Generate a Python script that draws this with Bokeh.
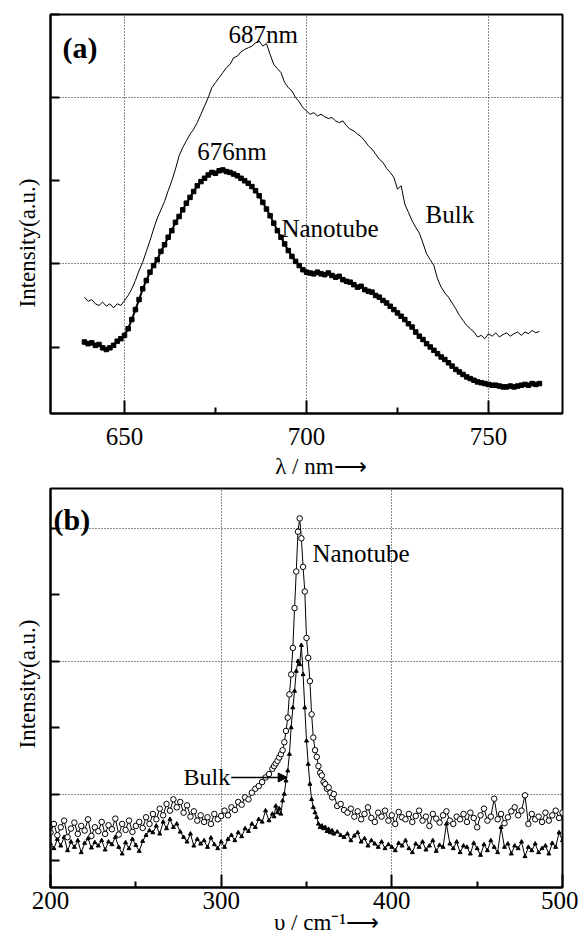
import math
from bokeh.plotting import figure
from bokeh.layouts import column
from bokeh.models import Range1d, FixedTicker, Label, Arrow, NormalHead, Title
from bokeh.embed import file_html
from bokeh.resources import INLINE

SERIF = "Liberation Serif"
NB = "\u00a0"

# ---------------- data: panel (a) photoluminescence ----------------
wl = list(range(639, 765))  # wavelength, nm
nano_pl = [
    1.06, 1.04, 1.05, 1.02, 1.03, 0.99, 0.97, 0.99, 1.02, 1.07,
    1.10, 1.14, 1.22, 1.33, 1.45, 1.57, 1.70, 1.80, 1.90, 1.98,
    2.05, 2.15, 2.23, 2.32, 2.40, 2.50, 2.57, 2.65, 2.73, 2.80,
    2.87, 2.94, 2.99, 3.03, 3.07, 3.10, 3.09, 3.12, 3.13, 3.11,
    3.10, 3.08, 3.06, 3.03, 3.00, 2.97, 2.93, 2.88, 2.82, 2.74,
    2.66, 2.58, 2.49, 2.40, 2.32, 2.24, 2.16, 2.09, 2.03, 1.98,
    1.93, 1.90, 1.89, 1.88, 1.90, 1.88, 1.87, 1.89, 1.86, 1.84,
    1.85, 1.81, 1.79, 1.78, 1.75, 1.72, 1.73, 1.69, 1.67, 1.66,
    1.62, 1.60, 1.56, 1.53, 1.49, 1.45, 1.41, 1.37, 1.33, 1.28,
    1.24, 1.18, 1.13, 1.09, 1.04, 1.00, 0.96, 0.92, 0.88, 0.85,
    0.81, 0.77, 0.73, 0.70, 0.67, 0.64, 0.62, 0.60, 0.58, 0.57,
    0.56, 0.55, 0.54, 0.54, 0.53, 0.52, 0.52, 0.53, 0.52, 0.53,
    0.54, 0.55, 0.54, 0.56, 0.55, 0.56,
]
bulk_pl = [
    1.60, 1.55, 1.57, 1.52, 1.50, 1.54, 1.49, 1.52, 1.47, 1.52,
    1.50, 1.56, 1.62, 1.70, 1.80, 1.92, 2.02, 2.15, 2.28, 2.42,
    2.55, 2.65, 2.75, 2.88, 3.00, 3.14, 3.30, 3.40, 3.48, 3.56,
    3.62, 3.70, 3.80, 3.90, 4.00, 4.12, 4.18, 4.24, 4.30, 4.36,
    4.40, 4.48, 4.50, 4.55, 4.58, 4.60, 4.62, 4.66, 4.68, 4.62,
    4.65, 4.52, 4.40, 4.35, 4.30, 4.18, 4.12, 4.08, 4.00, 3.95,
    3.88, 3.84, 3.80, 3.82, 3.78, 3.80, 3.77, 3.75, 3.76, 3.72,
    3.70, 3.72, 3.66, 3.62, 3.60, 3.56, 3.53, 3.48, 3.42, 3.38,
    3.32, 3.26, 3.22, 3.15, 3.10, 3.04, 2.90, 2.94, 2.72, 2.62,
    2.52, 2.44, 2.37, 2.25, 2.12, 2.05, 1.98, 1.82, 1.72, 1.65,
    1.60, 1.53, 1.46, 1.38, 1.32, 1.26, 1.22, 1.18, 1.12, 1.14,
    1.10, 1.16, 1.13, 1.17, 1.12, 1.15, 1.17, 1.13, 1.16, 1.18,
    1.14, 1.18, 1.16, 1.20, 1.17, 1.19,
]
a_xticks = [650, 700, 750]
a_xminor = [675, 725]
a_yticks = [1, 2, 3, 4, 5]
a_ygrid = [2, 4]

# ---------------- data: panel (b) Raman ----------------
raman_x = list(range(200, 330, 2)) + list(range(330, 367)) + list(range(368, 501, 2))
nano_raman = [
    1.42, 1.55, 1.38, 1.50, 1.60, 1.35, 1.48, 1.57, 1.40, 1.52, 1.45, 1.62, 1.37, 1.50, 1.44,
    1.58, 1.40, 1.53, 1.47, 1.63, 1.39, 1.55, 1.46, 1.60, 1.43, 1.52, 1.58, 1.49, 1.65, 1.55,
    1.70, 1.62, 1.78, 1.68, 1.85, 1.75, 1.92, 1.80, 1.88, 1.72, 1.83, 1.66, 1.74, 1.60, 1.68,
    1.58, 1.65, 1.55, 1.70, 1.62, 1.67, 1.75, 1.68, 1.80, 1.76, 1.88, 1.84, 1.95, 1.92, 2.02,
    2.08, 2.12, 2.18, 2.25, 2.30,
    2.38, 2.42, 2.46, 2.50, 2.55, 2.60, 2.66, 2.78, 2.95, 3.15,
    3.50, 3.80, 4.20, 4.80, 5.35, 5.95, 6.15, 5.85, 5.42, 5.05,
    4.35, 4.05, 3.70, 3.20, 2.85, 2.66, 2.56, 2.42, 2.32, 2.28,
    2.18, 2.15, 2.08, 2.10, 2.02, 1.95, 2.00,
    1.82, 1.85, 1.76, 1.72, 1.78, 1.66, 1.74, 1.62, 1.70, 1.80, 1.64, 1.58, 1.72, 1.66, 1.75, 1.60,
    1.68, 1.55, 1.73, 1.65, 1.62, 1.70, 1.58, 1.67, 1.75, 1.60, 1.66, 1.52, 1.70, 1.63, 1.57, 1.68,
    1.74, 1.60, 1.55, 1.66, 1.62, 1.70, 1.58, 1.72, 1.64, 1.50, 1.68, 1.78, 1.60, 1.66, 1.93, 1.62,
    1.70, 1.56, 1.65, 1.74, 1.80, 1.68, 1.75, 1.98, 1.55, 1.70, 1.62, 1.66, 1.58, 1.72, 1.60, 1.68,
    1.75, 1.64, 1.72,
]
bulk_raman = [
    1.25, 1.18, 1.32, 1.22, 1.35, 1.15, 1.28, 1.20, 1.30, 1.12, 1.26, 1.33, 1.19, 1.27, 1.22,
    1.30, 1.16, 1.28, 1.24, 1.35, 1.20, 1.10, 1.27, 1.18, 1.32, 1.23, 1.14, 1.29, 1.38, 1.45,
    1.42, 1.52, 1.40, 1.58, 1.48, 1.62, 1.50, 1.55, 1.43, 1.35, 1.28, 1.40, 1.22, 1.32, 1.25,
    1.30, 1.20, 1.34, 1.24, 1.18, 1.28, 1.20, 1.32, 1.38, 1.30, 1.42, 1.36, 1.48, 1.44, 1.55,
    1.50, 1.62, 1.58, 1.75, 1.60,
    1.70, 1.66, 1.82, 1.72, 1.78, 1.70, 1.90, 2.00, 2.20, 2.35,
    2.60, 3.00, 3.30, 3.55, 3.85, 4.00, 3.95, 4.24, 3.80, 3.30,
    2.80, 2.45, 2.15, 1.92, 1.80, 1.72, 1.65, 1.55, 1.50, 1.52,
    1.48, 1.50, 1.44, 1.47, 1.42, 1.45, 1.40,
    1.43, 1.38, 1.35, 1.40, 1.30, 1.37, 1.42, 1.28, 1.33, 1.22, 1.30, 1.25, 1.20, 1.28, 1.18, 1.24,
    1.20, 1.15, 1.26, 1.22, 1.30, 1.18, 1.12, 1.25, 1.20, 1.28, 1.16, 1.22, 1.30, 1.14, 1.23, 1.20,
    1.55, 1.25, 1.18, 1.28, 1.12, 1.22, 1.20, 1.10, 1.26, 1.18, 1.08, 1.24, 1.15, 1.30, 1.20, 1.12,
    1.50, 1.20, 1.25, 1.10, 1.22, 1.18, 1.28, 1.06, 1.20, 1.15, 1.25, 1.12, 1.18, 1.22, 1.10, 1.26,
    1.20, 1.42, 1.30,
]
b_xticks = [200, 300, 400, 500]
b_xminor = [250, 350, 450]
b_xgrid = [300, 400]
b_yticks = [1, 2, 3, 4, 5, 6]
b_ygrid = [2, 4, 6]


def style(p, xticks, xminor, xgrid, yticks, ygrid, standoff, xlabel, xlabel_standoff):
    p.background_fill_color = "white"
    p.border_fill_color = "white"
    p.outline_line_color = "black"
    p.outline_line_width = 2
    xa = p.xaxis[0]
    xa.ticker = FixedTicker(ticks=xticks, minor_ticks=xminor)
    xa.axis_line_width = 2
    xa.major_tick_line_width = 2
    xa.major_tick_in = 13
    xa.major_tick_out = 0
    xa.minor_tick_line_width = 2
    xa.minor_tick_in = 6
    xa.minor_tick_out = 0
    xa.major_label_text_font = SERIF
    xa.major_label_text_font_size = "25px"
    xa.major_label_text_color = "black"
    xa.major_label_standoff = standoff
    xa.axis_label = xlabel
    xa.axis_label_text_font = SERIF
    xa.axis_label_text_font_size = "23px"
    xa.axis_label_text_font_style = "normal"
    xa.axis_label_text_color = "black"
    xa.axis_label_standoff = xlabel_standoff
    ya = p.yaxis[0]
    ya.ticker = FixedTicker(ticks=yticks)
    ya.axis_line_width = 2
    ya.major_tick_line_width = 2
    ya.major_tick_in = 9
    ya.major_tick_out = 0
    ya.minor_tick_line_color = None
    ya.major_label_text_font_size = "1px"
    ya.major_label_text_color = None
    ya.major_label_standoff = 0
    p.xgrid.ticker = FixedTicker(ticks=xgrid)
    p.ygrid.ticker = FixedTicker(ticks=ygrid)
    for g in (p.xgrid, p.ygrid):
        g.grid_line_color = "black"
        g.grid_line_width = 1
        g.grid_line_dash = "1 2"
        g.grid_line_alpha = 0.9


def ytitle(p, offset):
    p.add_layout(Title(text="Intensity(a.u.)", align="left", offset=offset, vertical_align="top",
                       standoff=18, text_font=SERIF, text_font_size="23px",
                       text_font_style="normal", text_color="black"), "left")


def lab(p, x, y, text, size, style_="normal", align="left", baseline="middle"):
    p.add_layout(Label(x=x, y=y, text=text, text_font=SERIF, text_font_size=f"{size}px",
                       text_font_style=style_, text_align=align, text_baseline=baseline,
                       text_color="black"))


# ---------------- panel (a) ----------------
pa = figure(width=578, height=487, x_range=Range1d(629.67, 770.33), y_range=Range1d(0.2, 5.0),
            output_backend="svg", toolbar_location=None,
            min_border_left=50, min_border_right=16, min_border_top=14, min_border_bottom=74)
style(pa, a_xticks, a_xminor, a_xticks, a_yticks, a_ygrid, 14, NB * 5 + "λ / nm⟶", 6)
ytitle(pa, 106)

pa.line(wl, bulk_pl, line_color="black", line_width=1)
pa.line(wl, nano_pl, line_color="black", line_width=2)
pa.scatter(wl, nano_pl, marker="square", size=4.5, fill_color="black", line_color="black")

lab(pa, 633.0, 4.60, "(a)", 30, "bold")
lab(pa, 678.6, 4.76, "687nm", 25)
lab(pa, 670.0, 3.35, "676nm", 25)
lab(pa, 693.1, 2.43, "Nanotube", 25)
lab(pa, 732.7, 2.60, "Bulk", 25)

# ---------------- panel (b) ----------------
pb = figure(width=578, height=458, x_range=Range1d(200, 500), y_range=Range1d(0.593, 6.60),
            output_backend="svg", toolbar_location=None,
            min_border_left=50, min_border_right=16, min_border_top=1, min_border_bottom=58)
style(pb, b_xticks, b_xminor, b_xgrid, b_yticks, b_ygrid, 4, NB * 7 + "υ / cm⁻¹⟶", -2)
ytitle(pb, 139)

pb.line(raman_x, bulk_raman, line_color="black", line_width=1)
pb.scatter(raman_x, bulk_raman, marker="triangle", size=4, fill_color="black", line_color="black")
pb.line(raman_x, nano_raman, line_color="black", line_width=1)
pb.scatter(raman_x, nano_raman, marker="circle", size=5.5, fill_color="white",
           line_color="black", line_width=1)

lab(pb, 201.8, 6.14, "(b)", 30, "bold")
lab(pb, 353.5, 5.62, "Nanotube", 25)
lab(pb, 277.9, 2.25, "Bulk", 24)
pb.add_layout(Arrow(end=NormalHead(size=9, fill_color="black", line_color="black", line_width=1),
                    x_start=305.9, y_start=2.25, x_end=338.7, y_end=2.25,
                    line_color="black", line_width=1.5))

layout = column(pa, pb, spacing=0)
open("out.html", "w").write(file_html(layout, INLINE))
